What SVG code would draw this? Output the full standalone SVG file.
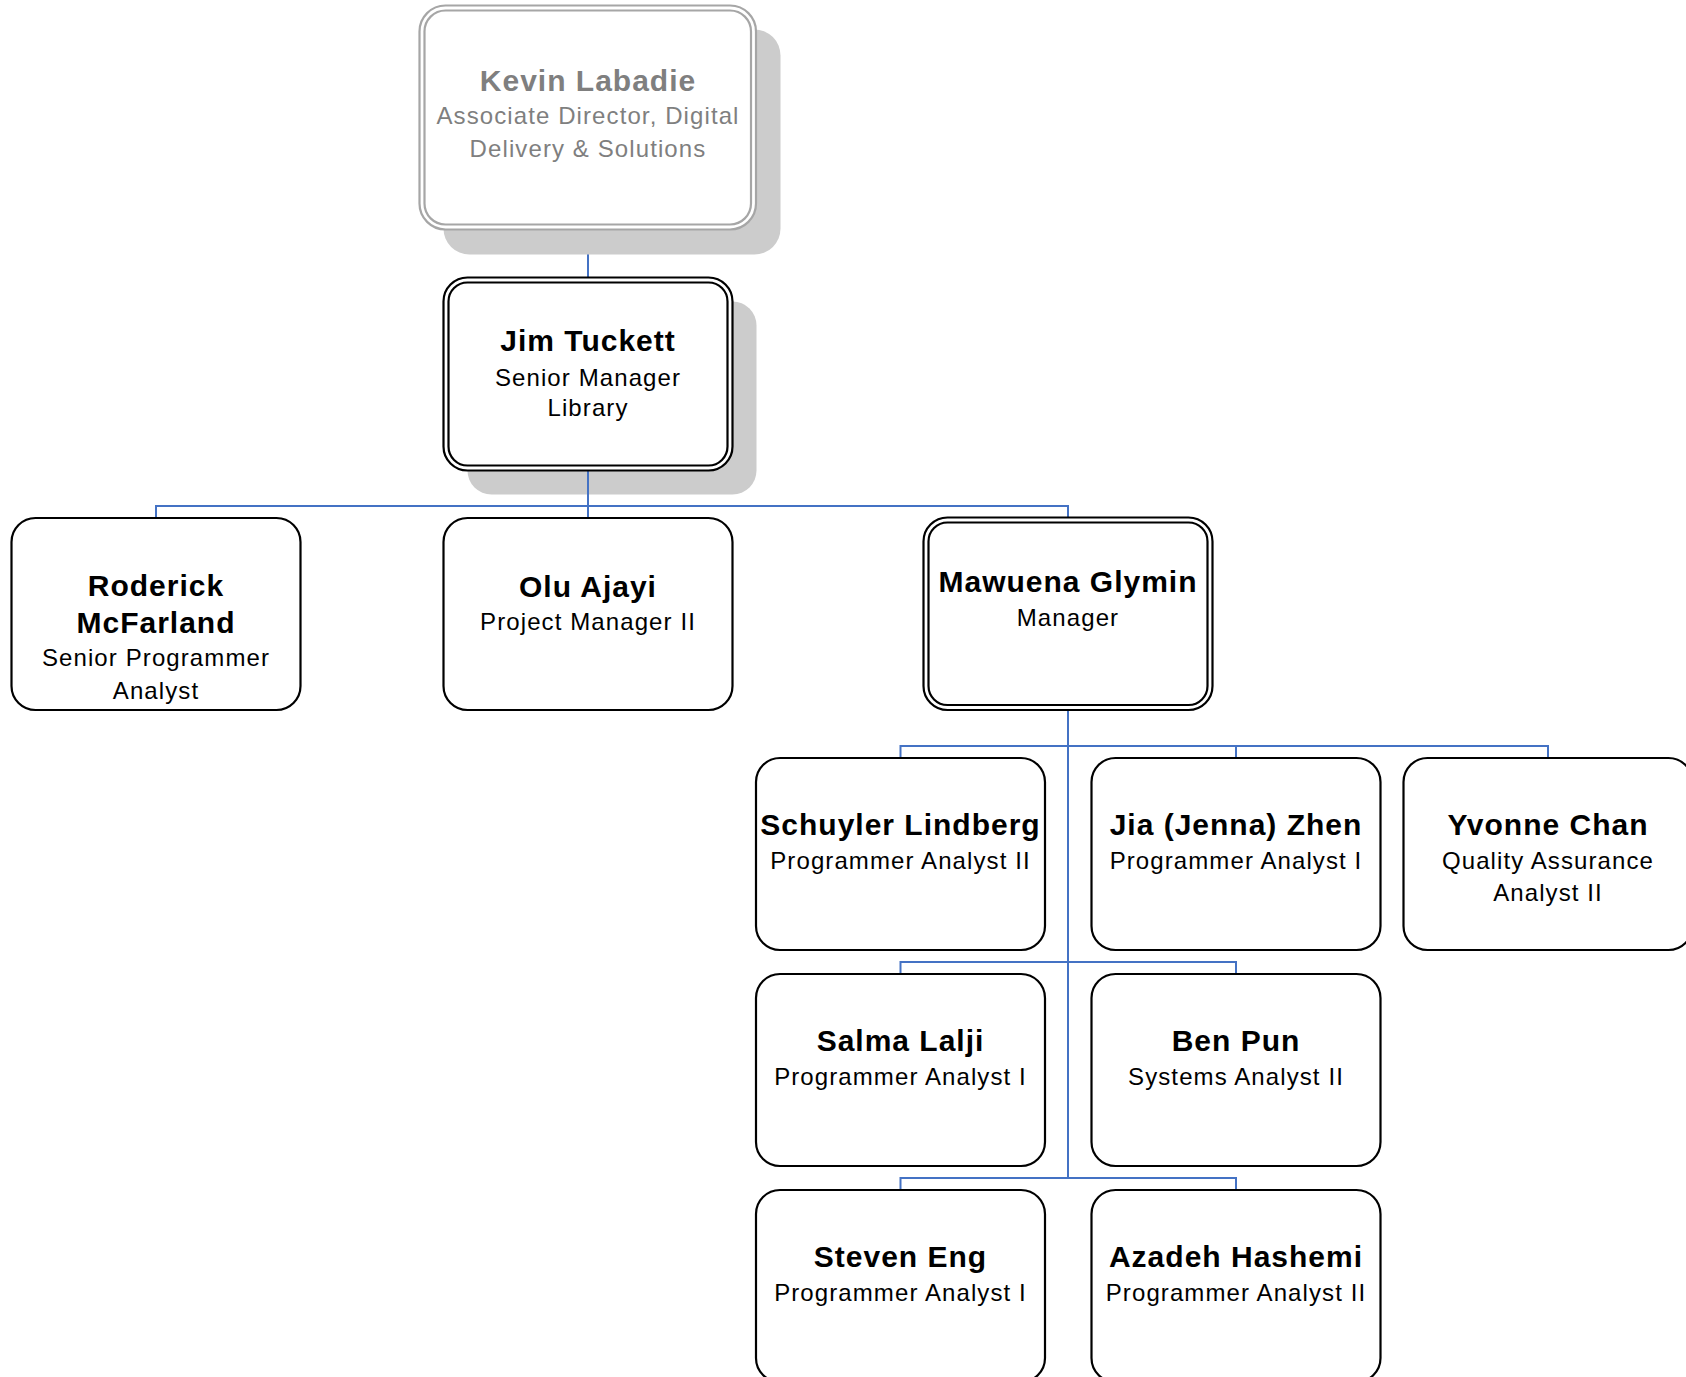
<svg xmlns="http://www.w3.org/2000/svg" width="1686" height="1377" viewBox="0 0 1686 1377">
<style>
.bg{fill:#ffffff}
.box{fill:#ffffff;stroke:#000000;stroke-width:2.2}
.inner{fill:none;stroke:#000000;stroke-width:2.2}
.gbox{fill:#ffffff;stroke:#a6a6a6;stroke-width:2.2}
.ginner{fill:none;stroke:#a6a6a6;stroke-width:2.2}
.shadow{fill:#cccccc}
.conn{fill:none;stroke:#4472c4;stroke-width:2}
text{font-family:"Liberation Sans",Arial,sans-serif;text-anchor:middle;fill:#000000}
.name{font-size:30px;font-weight:bold;letter-spacing:1px}
.sub{font-size:24px;letter-spacing:1.1px}
.grey{fill:#7f7f7f}
</style>
<rect class="bg" x="0" y="0" width="1686" height="1377"/>
<g id="shadows">
<rect class="shadow" x="467.5" y="301.5" width="289" height="193" rx="24"/>
</g>
<g id="connectors">
<path class="conn" d="M588 229 V277"/>
<path class="conn" d="M588 471 V506"/>
<path class="conn" d="M156 518 V506 H1068 V517"/>
<path class="conn" d="M588 506 V518"/>
<path class="conn" d="M1068 710 V1178"/>
<path class="conn" d="M900.5 758 V746 H1548 V758"/>
<path class="conn" d="M1236 746 V758"/>
<path class="conn" d="M900.5 974 V962 H1236 V974"/>
<path class="conn" d="M900.5 1190 V1178 H1236 V1190"/>
</g>
<g id="kevin">
<rect class="shadow" x="443.5" y="29.5" width="337" height="225" rx="26"/>
<rect class="gbox" x="419.5" y="5.5" width="336.5" height="224" rx="26"/>
<rect class="ginner" x="424.5" y="10.5" width="326.5" height="214" rx="21"/>
<text class="name grey" x="588" y="91">Kevin Labadie</text>
<text class="sub grey" x="588" y="124">Associate Director, Digital</text>
<text class="sub grey" x="588" y="157">Delivery &amp; Solutions</text>
</g>
<g id="jim">
<rect class="box" x="443.5" y="277.5" width="289" height="193" rx="24"/>
<rect class="inner" x="448.5" y="282.5" width="279" height="183" rx="19"/>
<text class="name" x="588" y="351">Jim Tuckett</text>
<text class="sub" x="588" y="386">Senior Manager</text>
<text class="sub" x="588" y="416">Library</text>
</g>
<g id="roderick">
<rect class="box" x="11.5" y="518" width="289" height="192" rx="24"/>
<text class="name" x="156" y="596">Roderick</text>
<text class="name" x="156" y="633">McFarland</text>
<text class="sub" x="156" y="666">Senior Programmer</text>
<text class="sub" x="156" y="699">Analyst</text>
</g>
<g id="olu">
<rect class="box" x="443.5" y="518" width="289" height="192" rx="24"/>
<text class="name" x="588" y="597">Olu Ajayi</text>
<text class="sub" x="588" y="630">Project Manager II</text>
</g>
<g id="mawuena">
<rect class="box" x="923.5" y="517.5" width="289" height="192.5" rx="24"/>
<rect class="inner" x="928.5" y="522.5" width="279" height="182.5" rx="19"/>
<text class="name" x="1068" y="592">Mawuena Glymin</text>
<text class="sub" x="1068" y="626">Manager</text>
</g>
<g id="schuyler">
<rect class="box" x="756" y="758" width="289" height="192" rx="24"/>
<text class="name" x="900.5" y="835">Schuyler Lindberg</text>
<text class="sub" x="900.5" y="869">Programmer Analyst II</text>
</g>
<g id="jia">
<rect class="box" x="1091.5" y="758" width="289" height="192" rx="24"/>
<text class="name" x="1236" y="835">Jia (Jenna) Zhen</text>
<text class="sub" x="1236" y="869">Programmer Analyst I</text>
</g>
<g id="yvonne">
<rect class="box" x="1403.5" y="758" width="289" height="192" rx="24"/>
<text class="name" x="1548" y="835">Yvonne Chan</text>
<text class="sub" x="1548" y="869">Quality Assurance</text>
<text class="sub" x="1548" y="901">Analyst II</text>
</g>
<g id="salma">
<rect class="box" x="756" y="974" width="289" height="192" rx="24"/>
<text class="name" x="900.5" y="1051">Salma Lalji</text>
<text class="sub" x="900.5" y="1085">Programmer Analyst I</text>
</g>
<g id="ben">
<rect class="box" x="1091.5" y="974" width="289" height="192" rx="24"/>
<text class="name" x="1236" y="1051">Ben Pun</text>
<text class="sub" x="1236" y="1085">Systems Analyst II</text>
</g>
<g id="steven">
<rect class="box" x="756" y="1190" width="289" height="192" rx="24"/>
<text class="name" x="900.5" y="1267">Steven Eng</text>
<text class="sub" x="900.5" y="1301">Programmer Analyst I</text>
</g>
<g id="azadeh">
<rect class="box" x="1091.5" y="1190" width="289" height="192" rx="24"/>
<text class="name" x="1236" y="1267">Azadeh Hashemi</text>
<text class="sub" x="1236" y="1301">Programmer Analyst II</text>
</g>
</svg>
